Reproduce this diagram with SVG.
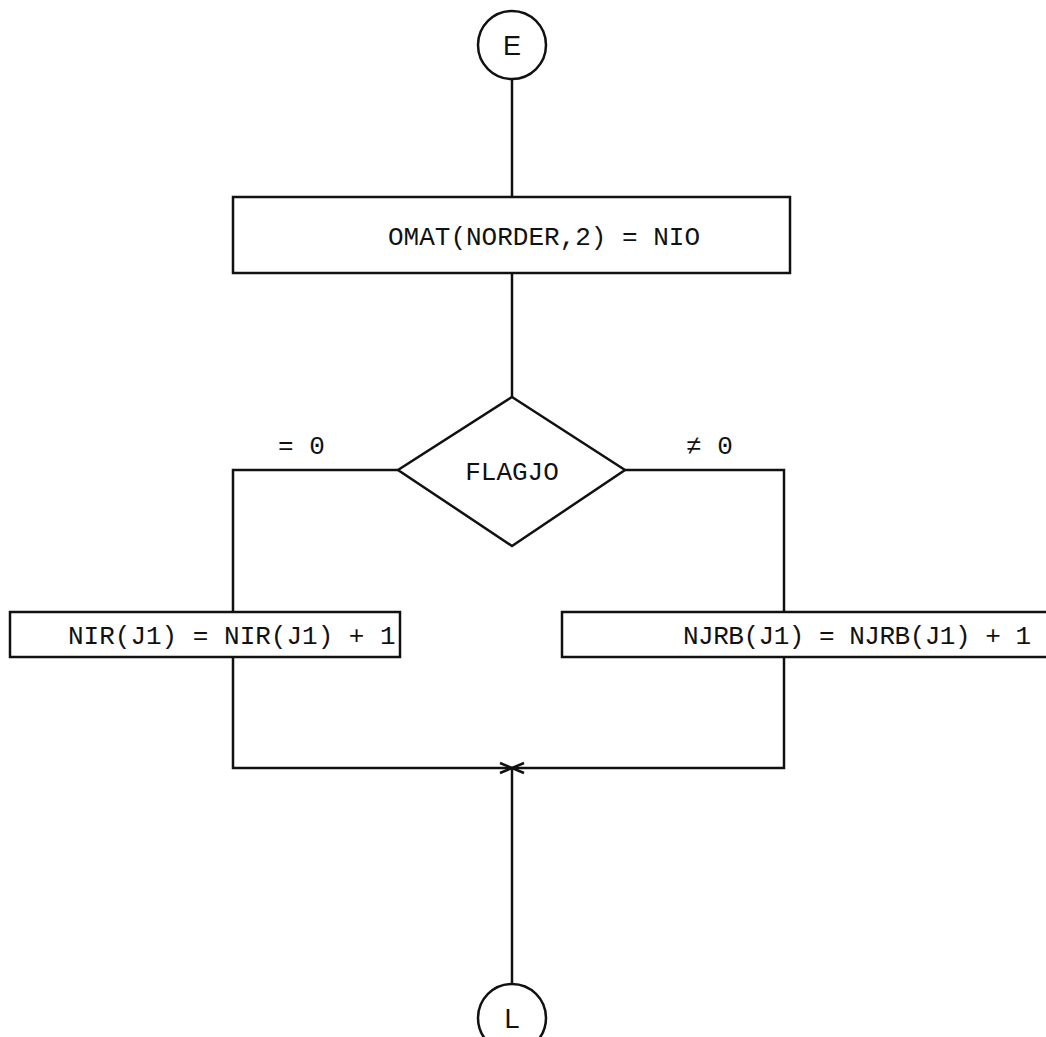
<svg xmlns="http://www.w3.org/2000/svg" width="1046" height="1037" viewBox="0 0 1046 1037">
<style>
.s{fill:none;stroke:#111;stroke-width:2.5}
.b{fill:#fff;stroke:#111;stroke-width:2.5}
.t{font-family:"Liberation Mono","DejaVu Sans Mono",monospace;font-size:26px;fill:#111}
.c{font-family:"Liberation Sans","DejaVu Sans",sans-serif;font-size:27px;fill:#111}
</style>
<rect width="1046" height="1037" fill="#fff"/>
<g id="connectors">
<path class="s" d="M512 79V197"/>
<path class="s" d="M512 273V397"/>
<path class="s" d="M398 470H233V612"/>
<path class="s" d="M625 470H784V612"/>
<path class="s" d="M233 657V768H784V657"/>
<path class="s" d="M512 768V984"/>
<path class="s" d="M500 763L524 773M500 773L524 763"/>
<text class="t" x="278" y="454">= 0</text>
<text class="t" x="686" y="454">≠ 0</text>
</g>
<g id="start">
<circle class="b" cx="512" cy="45" r="34"/>
<text class="c" x="512" y="55" text-anchor="middle">E</text>
</g>
<g id="omat">
<rect class="b" x="233" y="197" width="557" height="76"/>
<text class="t" x="388" y="245">OMAT(NORDER,2) = NIO</text>
</g>
<g id="flagjo">
<polygon class="b" points="512,397 625,470 512,546 398,470"/>
<text class="t" x="512" y="480" text-anchor="middle">FLAGJO</text>
</g>
<g id="nir">
<rect class="b" x="10" y="612" width="390" height="45"/>
<text class="t" x="68" y="644">NIR(J1) = NIR(J1) + 1</text>
</g>
<g id="njrb">
<rect class="b" x="562" y="612" width="500" height="45"/>
<text class="t" x="683" y="644" textLength="348">NJRB(J1) = NJRB(J1) + 1</text>
</g>
<g id="end">
<circle class="b" cx="512" cy="1018" r="34"/>
<text class="c" x="512" y="1028" text-anchor="middle">L</text>
</g>
</svg>
